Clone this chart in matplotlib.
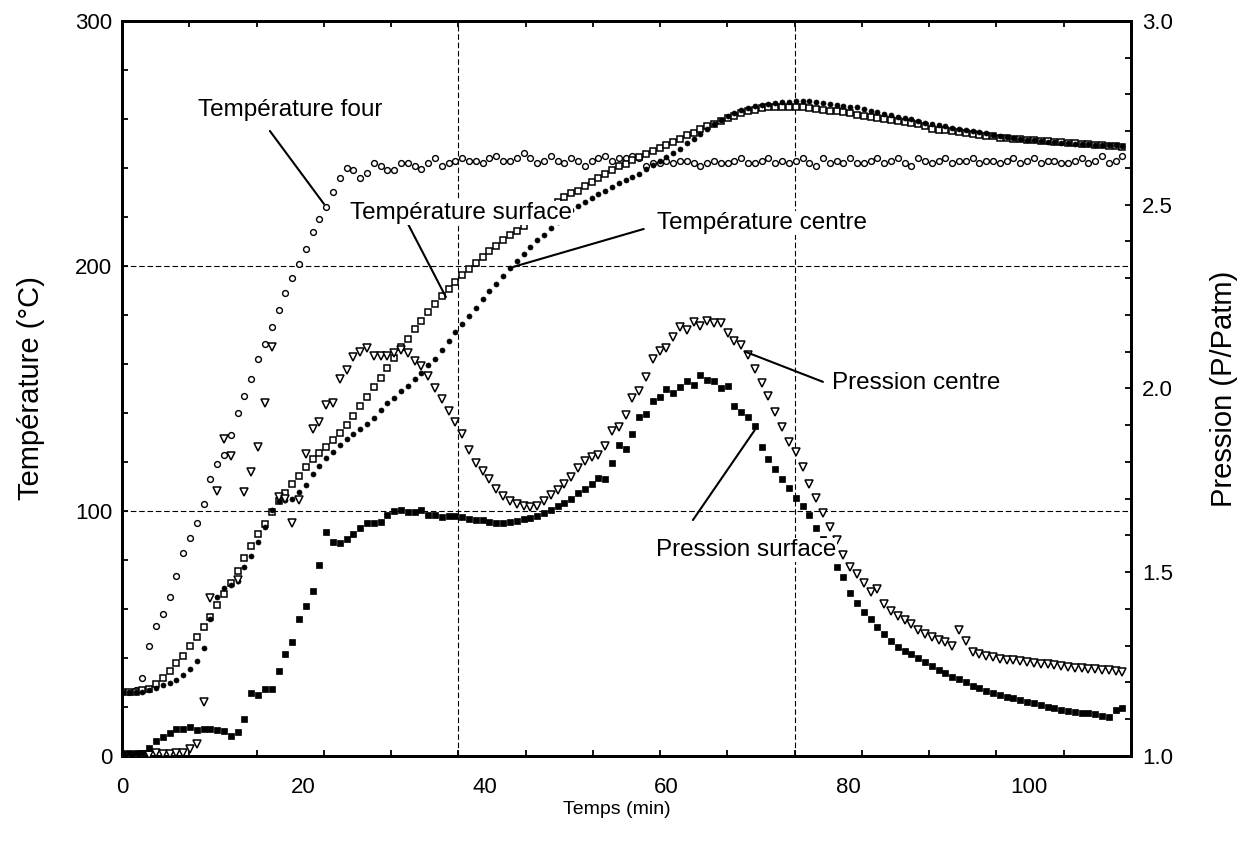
import matplotlib.pyplot as plt

# police proche d'Arial
plt.rcParams["font.family"] = ["Liberation Sans", "DejaVu Sans"]

# temps d'acquisition (min)
time_min = [
    0, 0.75, 1.5, 2.25, 3, 3.75, 4.5, 5.25, 6, 6.75,
    7.5, 8.25, 9, 9.75, 10.5, 11.25, 12, 12.75, 13.5, 14.25,
    15, 15.75, 16.5, 17.25, 18, 18.75, 19.5, 20.25, 21, 21.75,
    22.5, 23.25, 24, 24.75, 25.5, 26.25, 27, 27.75, 28.5, 29.25,
    30, 30.75, 31.5, 32.25, 33, 33.75, 34.5, 35.25, 36, 36.75,
    37.5, 38.25, 39, 39.75, 40.5, 41.25, 42, 42.75, 43.5, 44.25,
    45, 45.75, 46.5, 47.25, 48, 48.75, 49.5, 50.25, 51, 51.75,
    52.5, 53.25, 54, 54.75, 55.5, 56.25, 57, 57.75, 58.5, 59.25,
    60, 60.75, 61.5, 62.25, 63, 63.75, 64.5, 65.25, 66, 66.75,
    67.5, 68.25, 69, 69.75, 70.5, 71.25, 72, 72.75, 73.5, 74.25,
    75, 75.75, 76.5, 77.25, 78, 78.75, 79.5, 80.25, 81, 81.75,
    82.5, 83.25, 84, 84.75, 85.5, 86.25, 87, 87.75, 88.5, 89.25,
    90, 90.75, 91.5, 92.25, 93, 93.75, 94.5, 95.25, 96, 96.75,
    97.5, 98.25, 99, 99.75, 100.5, 101.25, 102, 102.75, 103.5, 104.25,
    105, 105.75, 106.5, 107.25, 108, 108.75, 109.5, 110.25,
]

# température du four (°C)
temp_four = [
    26, 26, 27, 32, 45, 53, 58, 65, 73.5, 83,
    89, 95, 103, 113, 119, 123, 131, 140, 147, 154,
    162, 168, 175, 182, 189, 195, 201, 207, 214, 219,
    224, 230, 236, 240, 239, 236, 238, 242, 241, 239,
    239, 242, 242, 241, 239.5, 242, 244, 241, 242, 243,
    244, 243, 243, 242, 244, 245, 243, 243, 244, 246,
    244, 242, 243, 245, 243, 242, 244, 243, 241, 243,
    244, 245, 243, 244, 244, 245, 244, 241, 242, 242,
    243, 242, 243, 243, 242, 241, 242, 243, 242, 242,
    243, 244, 242, 242, 243, 244, 242, 243, 242, 243,
    244, 242, 241, 244, 242, 243, 242, 244, 242, 242,
    243, 244, 242, 243, 244, 242, 241, 244, 243, 242,
    243, 244, 242, 243, 243, 244, 242, 243, 243, 242,
    243, 244, 242, 243, 244, 242, 243, 243, 242, 242,
    243, 244, 242, 243, 245, 242, 243, 245,
]

# température de surface (°C)
temp_surface = [
    26, 26, 26.2, 26.8, 27.4, 29.5, 31.8, 34.5, 37.8, 41,
    44.9, 48.7, 52.5, 56.8, 61.6, 66, 70.5, 75.7, 81, 85.7,
    90.6, 94.7, 99.6, 103.9, 107.3, 111.2, 114.4, 118, 121.1, 123.6,
    126.3, 128.9, 131.9, 135.1, 138.9, 142.8, 146.4, 150.4, 154.3, 158.4,
    162.3, 166.8, 170, 174.1, 177.7, 181.1, 184.5, 187.6, 190.5, 193.5,
    196.2, 198.9, 201.2, 203.6, 206, 208.2, 210.6, 212.6, 214.4, 216.5,
    218.5, 220.5, 222.3, 224.2, 226, 228, 229.8, 230.8, 232.5, 234.4,
    236, 237.5, 239, 240.6, 241.8, 243.4, 244.5, 245.6, 247.1, 248.1,
    249.4, 250.7, 251.8, 253.3, 254.4, 255.8, 257, 258.1, 259.3, 260.5,
    261.4, 262.4, 263.1, 263.8, 264.3, 264.7, 265, 265, 265, 264.9,
    264.7, 264.4, 264.1, 263.8, 263.4, 263.1, 262.8, 262.3, 261.8, 261.3,
    260.9, 260.4, 260, 259.6, 259.1, 258.8, 258.4, 257.8, 257, 256.1,
    255.6, 255.3, 255, 254.5, 254.1, 253.8, 253.5, 253.2, 252.9, 252.4,
    252.1, 251.9, 251.7, 251.5, 251.3, 251.2, 250.9, 250.6, 250.5, 250.3,
    250, 249.8, 249.6, 249.4, 249.3, 249.1, 248.9, 248.7,
]

# température à coeur (°C)
temp_centre = [
    26, 26, 26, 26.3, 26.8, 27.6, 28.8, 29.9, 31.2, 33.2,
    35.5, 38.9, 44, 56, 64.9, 68.5, 69.8, 71.5, 77, 81.5,
    87.5, 93.5, 100.2, 104, 104.3, 104.8, 107.6, 110.5, 115, 118.5,
    121.6, 124.2, 126.8, 129.3, 131.3, 133.3, 135.5, 137.8, 141.2, 143.9,
    146.2, 148.8, 151.2, 153.9, 156.5, 159.4, 162.2, 165.6, 169.5, 172.9,
    176.2, 179.5, 183, 186.6, 189.8, 192.8, 195.8, 199.1, 202, 205,
    207.9, 210.5, 212.8, 215.5, 218, 220.5, 222.7, 224.6, 226.1, 227.7,
    229.4, 230.8, 232.2, 233.7, 235, 236.4, 237.6, 239.5, 241.2, 242.8,
    244.4, 246.1, 247.8, 250.1, 252, 254, 255.8, 257.8, 259.7, 261.1,
    262.3, 263.6, 264.4, 265.1, 265.8, 266.2, 266.7, 266.8, 267, 267.2,
    267.3, 267.2, 267, 266.6, 266.1, 265.7, 265.3, 265, 264.7, 264.1,
    263.4, 262.8, 262.2, 261.7, 261, 260.4, 259.8, 259, 258.4, 258,
    257.5, 257, 256.5, 255.9, 255.4, 255, 254.6, 254.1, 253.6, 253.1,
    252.6, 252.3, 251.9, 251.6, 251.3, 251, 250.8, 250.5, 250.3, 250.1,
    249.9, 249.8, 249.6, 249.5, 249.4, 249.3, 249.2, 249.1,
]

# pression à coeur (P/Patm)
pres_centre = [
    1.0, 1.0, 1.0, 1.002, 1.004, 1.007, 1.005, 1.005, 1.009, 1.007,
    1.018, 1.033, 1.146, 1.429, 1.722, 1.863, 1.817, 1.479, 1.719, 1.774,
    1.840, 1.960, 2.114, 1.706, 1.70, 1.635, 1.697, 1.822, 1.89, 1.910,
    1.955, 1.961, 2.026, 2.050, 2.085, 2.100, 2.109, 2.087, 2.087, 2.087,
    2.096, 2.105, 2.096, 2.075, 2.062, 2.035, 2.0, 1.972, 1.94, 1.908,
    1.875, 1.833, 1.798, 1.775, 1.755, 1.727, 1.708, 1.695, 1.686, 1.680,
    1.677, 1.680, 1.693, 1.710, 1.724, 1.740, 1.760, 1.783, 1.803, 1.814,
    1.820, 1.843, 1.885, 1.896, 1.927, 1.975, 1.994, 2.032, 2.080, 2.102,
    2.110, 2.140, 2.168, 2.160, 2.180, 2.170, 2.183, 2.178, 2.177, 2.152,
    2.129, 2.118, 2.090, 2.053, 2.016, 1.980, 1.935, 1.896, 1.855, 1.826,
    1.786, 1.740, 1.701, 1.662, 1.622, 1.588, 1.548, 1.515, 1.495, 1.471,
    1.447, 1.454, 1.413, 1.395, 1.382, 1.370, 1.360, 1.344, 1.332, 1.323,
    1.315, 1.309, 1.300, 1.343, 1.312, 1.284, 1.278, 1.273, 1.268, 1.265,
    1.262, 1.260, 1.258, 1.256, 1.253, 1.251, 1.249, 1.247, 1.244, 1.242,
    1.240, 1.239, 1.237, 1.236, 1.235, 1.234, 1.232, 1.229,
]

# pression de surface (P/Patm)
pres_surface = [
    1.009, 1.009, 1.009, 1.009, 1.022, 1.040, 1.053, 1.062, 1.073, 1.074,
    1.078, 1.071, 1.073, 1.073, 1.071, 1.068, 1.054, 1.066, 1.101, 1.171,
    1.166, 1.182, 1.181, 1.232, 1.277, 1.311, 1.373, 1.409, 1.449, 1.520,
    1.610, 1.583, 1.580, 1.590, 1.604, 1.621, 1.633, 1.635, 1.636, 1.656,
    1.667, 1.669, 1.665, 1.665, 1.669, 1.656, 1.656, 1.650, 1.652, 1.653,
    1.651, 1.645, 1.643, 1.643, 1.638, 1.634, 1.634, 1.637, 1.640, 1.644,
    1.648, 1.652, 1.660, 1.669, 1.679, 1.688, 1.700, 1.715, 1.726, 1.740,
    1.756, 1.753, 1.798, 1.846, 1.835, 1.875, 1.923, 1.931, 1.967, 1.978,
    1.999, 1.987, 2.003, 2.019, 2.010, 2.037, 2.023, 2.021, 2.001, 2.007,
    1.952, 1.937, 1.923, 1.898, 1.840, 1.808, 1.781, 1.754, 1.728, 1.703,
    1.681, 1.656, 1.620, 1.590, 1.555, 1.513, 1.486, 1.443, 1.417, 1.393,
    1.372, 1.350, 1.332, 1.314, 1.297, 1.287, 1.278, 1.266, 1.257, 1.245,
    1.234, 1.225, 1.216, 1.209, 1.200, 1.190, 1.184, 1.178, 1.171, 1.166,
    1.161, 1.157, 1.152, 1.148, 1.143, 1.139, 1.134, 1.130, 1.125, 1.122,
    1.121, 1.118, 1.116, 1.114, 1.110, 1.106, 1.124, 1.130,
]

X_MAX = 111.2
GRID_DASH = (0, (5, 2.5))

fig = plt.figure(figsize=(12.46, 8.52), dpi=100, facecolor="white")
ax = fig.add_axes([0.0979, 0.1127, 0.8098, 0.8627])
ax2 = ax.twinx()

# grille en pointillés (tiers de l'axe des temps, 100 et 200 °C)
for gx in (X_MAX / 3, 2 * X_MAX / 3):
    ax.axvline(gx, color="black", lw=0.8, linestyle=GRID_DASH, zorder=0)
for gy in (100, 200):
    ax.axhline(gy, color="black", lw=0.8, linestyle=GRID_DASH, zorder=0)

# températures (axe gauche)
ax.plot(time_min, temp_four, linestyle="none", marker="o", ms=4.2,
        mfc="white", mec="black", mew=1.0, zorder=3)
ax.plot(time_min, temp_surface, linestyle="none", marker="s", ms=4.6,
        mfc="white", mec="black", mew=1.1, zorder=3)
ax.plot(time_min, temp_centre, linestyle="none", marker="o", ms=3.6,
        mfc="black", mec="black", mew=0.5, zorder=3)

# pressions (axe droit)
ax2.plot(time_min, pres_centre, linestyle="none", marker="v", ms=5.4,
         mfc="white", mec="black", mew=1.1, zorder=3)
ax2.plot(time_min, pres_surface, linestyle="none", marker="s", ms=3.9,
         mfc="black", mec="black", mew=0.5, zorder=3)

ax.set_xlim(0, X_MAX)
ax.set_ylim(0, 300)
ax2.set_ylim(1.0, 3.0)

# graduations
ax.set_xticks([0, 20, 40, 60, 80, 100])
ax.set_xticks([X_MAX * k / 15 for k in range(16)], minor=True)
ax.tick_params(axis="x", which="major", length=0, pad=15, labelsize=16)
ax.tick_params(axis="x", which="minor", direction="in", length=4, width=1.3,
               top=True, bottom=True)
ax.set_yticks([0, 100, 200, 300])
ax.set_yticks(range(0, 301, 20), minor=True)
ax.tick_params(axis="y", which="both", direction="in", length=4, width=1.3,
               labelsize=16, pad=7)
ax2.set_yticks([1.0, 1.5, 2.0, 2.5, 3.0])
ax2.set_yticklabels(["1.0", "1.5", "2.0", "2.5", "3.0"])
ax2.set_yticks([1.0 + 0.1 * k for k in range(21)], minor=True)
ax2.tick_params(axis="y", which="both", direction="in", length=4, width=1.3,
                labelsize=16, pad=8)

for a in (ax, ax2):
    for s in a.spines.values():
        s.set_linewidth(2.0)

ax.set_xlabel("Temps (min)", fontsize=14)
ax.xaxis.set_label_coords(0.4906, -0.061)
ax.set_ylabel("Température (°C)", fontsize=21)
ax.yaxis.set_label_coords(-0.076, 0.5)
ax2.set_ylabel("Pression (P/Patm)", fontsize=21)
ax2.yaxis.set_label_coords(1.078, 0.5)

# étiquettes des courbes (coordonnées en °C / min)
box = dict(boxstyle="square,pad=0.05", fc="white", ec="none")
labels = [
    ("Température four", (18.5, 263.5), "center", (16.3, 255.1), (22.26, 225.3)),
    ("Température surface", (25.1, 221.6), "left", (31.4, 218.0), (35.7, 187.3)),
    ("Température centre", (58.95, 217.6), "left", (57.5, 215.1), (43.1, 199.6)),
    ("Pression centre", (78.24, 152.2), "left", (77.25, 152.7), (68.76, 164.9)),
    ("Pression surface", (58.84, 84.1), "left", (62.92, 96.3), (69.75, 133.1)),
]
for txt, pos, ha, p0, p1 in labels:
    ax2.annotate("", xy=p1, xycoords=ax.transData, xytext=p0,
                 textcoords=ax.transData,
                 arrowprops=dict(arrowstyle="-", color="black", lw=1.5,
                                 shrinkA=0, shrinkB=0), zorder=6)
    ax2.text(pos[0], pos[1], txt, transform=ax.transData, ha=ha, va="center",
             fontsize=17.5, bbox=box, zorder=7)

plt.savefig("out.png", dpi=100, facecolor="white")
